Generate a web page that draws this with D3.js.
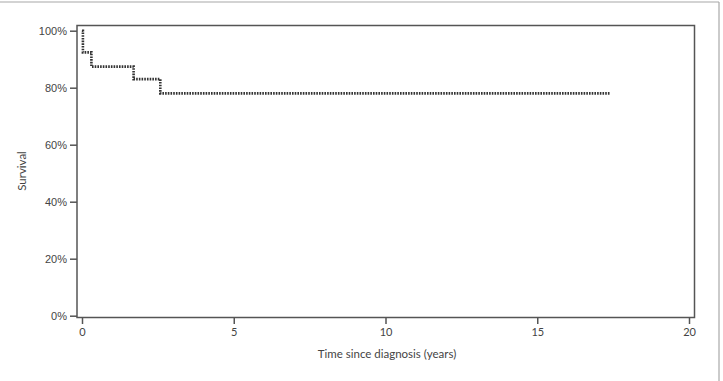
<!DOCTYPE html>
<html><head><meta charset="utf-8">
<script src="https://cdn.jsdelivr.net/npm/d3@7"></script>
<style>body{margin:0;background:#fff}svg{display:block}</style>
</head><body>
<script>
// Kaplan-Meier step data (time in years, survival fraction)
const times = [0, 0.03, 0.31, 1.70, 2.58, 17.4];
const survival = [1.0, 0.924, 0.874, 0.830, 0.780, 0.780];
const xTicks = [0, 5, 10, 15, 20];
const yTicks = [0, 0.2, 0.4, 0.6, 0.8, 1.0];

const W = 723, H = 381;
const svg = d3.select("body").append("svg").attr("width", W).attr("height", H);

// outer panel border
svg.append("line").attr("x1", 0).attr("x2", 719).attr("y1", 2).attr("y2", 2).attr("stroke", "#a8a8a8").attr("stroke-width", 1.2);
svg.append("line").attr("x1", 719).attr("x2", 719).attr("y1", 2).attr("y2", H).attr("stroke", "#a8a8a8").attr("stroke-width", 1.2);

const x = d3.scaleLinear().domain([0, 20]).range([82, 689]);
const y = d3.scaleLinear().domain([0, 1]).range([315.7, 30.7]);

// frame
svg.append("rect").attr("x", 77).attr("y", 25.5).attr("width", 694.5 - 77).attr("height", 317.5 - 25.5)
  .attr("fill", "none").attr("stroke", "#555").attr("stroke-width", 1.5);

const xAxis = svg.append("g").attr("transform", "translate(0,318)")
  .call(d3.axisBottom(x).tickValues(xTicks).tickSize(6).tickSizeOuter(0).tickPadding(4));
xAxis.select(".domain").remove();
xAxis.selectAll(".tick line").attr("stroke", "#555").attr("stroke-width", 1.5);
xAxis.selectAll(".tick text").attr("fill", "#444").style("font-family", "Lato, 'Open Sans', sans-serif").style("font-size", "11px");

const yAxis = svg.append("g").attr("transform", "translate(77,0)")
  .call(d3.axisLeft(y).tickValues(yTicks).tickFormat(d3.format(".0%")).tickSize(7).tickSizeOuter(0).tickPadding(3));
yAxis.select(".domain").remove();
yAxis.selectAll(".tick line").attr("stroke", "#555").attr("stroke-width", 1.5);
yAxis.selectAll(".tick text").attr("fill", "#444").style("font-family", "'Liberation Sans', Arial, sans-serif").style("font-size", "11px");

svg.append("text").attr("x", 387).attr("y", 358).attr("text-anchor", "middle")
  .attr("fill", "#444").style("font-family", "Lato, 'Open Sans', sans-serif").style("font-size", "11.5px")
  .text("Time since diagnosis (years)");
svg.append("text").attr("transform", "translate(26,171) rotate(-90)").attr("text-anchor", "middle")
  .attr("fill", "#444").style("font-family", "Lato, 'Open Sans', sans-serif").style("font-size", "11.5px")
  .text("Survival");

const pts = times.map((t, i) => [t, survival[i]]);
const line = d3.line().x(d => x(d[0])).y(d => y(d[1])).curve(d3.curveStepAfter);
svg.append("path").datum(pts).attr("d", line).attr("fill", "none")
  .attr("stroke", "#333").attr("stroke-width", 2.6).attr("stroke-dasharray", "1.6,1.1");
</script>
</body></html>
